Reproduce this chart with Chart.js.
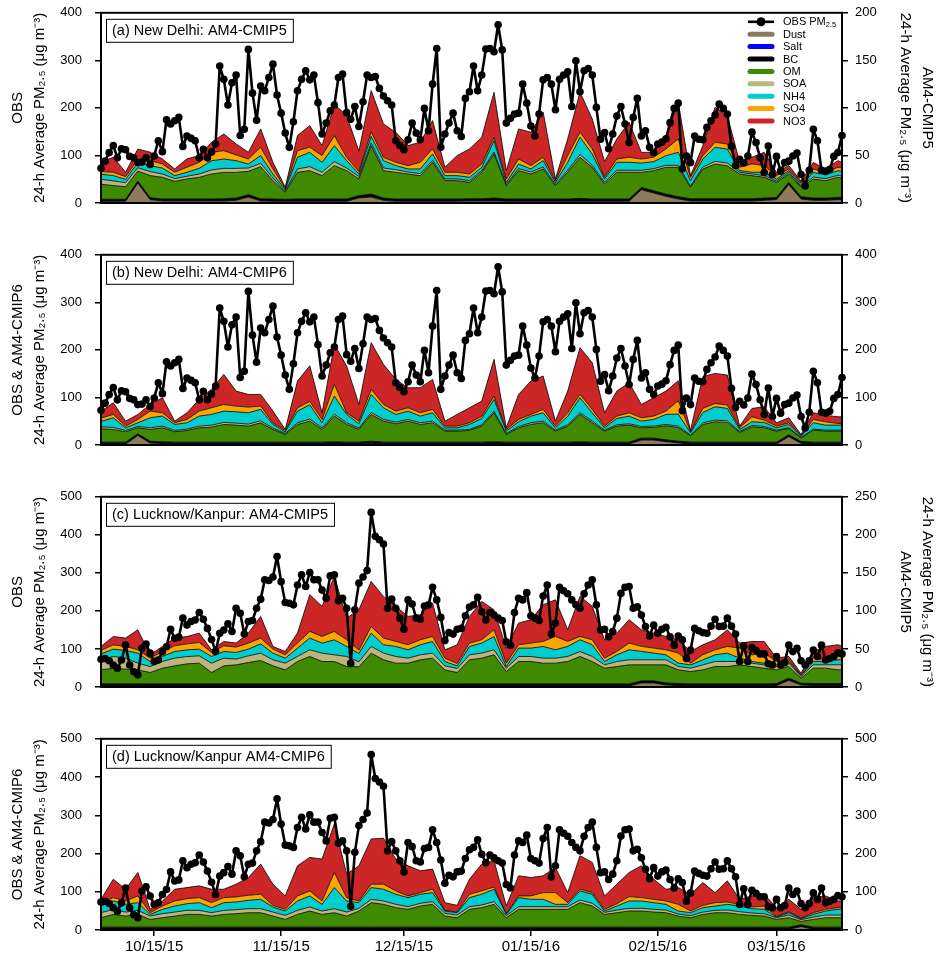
<!DOCTYPE html>
<html><head><meta charset="utf-8">
<script src="https://cdn.jsdelivr.net/npm/chart.js@4.4.1/dist/chart.umd.min.js"></script>
<style>
html,body{margin:0;padding:0;background:#fff;}
#wrap{position:relative;width:938px;height:976px;overflow:hidden;}
canvas{position:absolute;left:0;}
</style></head><body><div id="wrap">
<canvas id="ca" width="938" height="242" style="top:-8px"></canvas>
<canvas id="cb" width="938" height="242" style="top:234px"></canvas>
<canvas id="cc" width="938" height="242" style="top:476px"></canvas>
<canvas id="cd" width="938" height="259" style="top:718px"></canvas>
</div>
<script>
// ---------------- DATA ----------------
const tickDays = [13,44,74,105,136,165];
const tickLabels = ['10/15/15','11/15/15','12/15/15','01/15/16','02/15/16','03/15/16'];
const seriesNames = ['Dust','Salt','BC','OM','SOA','NH4','SO4','NO3'];
const seriesColors = ['#8c7a5b','#0000ff','#000000','#3f8a00','#bdb57c','#00cdcd','#ffa500','#cd2626'];

// daily observations, day 0 = 2 Oct 2015
const obsDelhi = [73,88,106,121,95,114,112,98,95,85,86,95,81,99,131,108,175,166,173,180,119,141,136,131,95,113,95,107,124,
288,260,206,253,269,142,155,323,231,174,246,236,264,292,227,189,147,117,171,236,260,278,259,269,211,145,168,194,206,264,271,
190,176,203,161,213,269,264,266,241,225,215,206,131,121,112,133,168,147,133,199,152,250,325,117,145,168,189,152,140,220,234,288,236,269,324,325,318,375,322,168,178,187,189,250,210,162,141,187,259,264,250,196,260,269,276,203,299,234,278,283,269,
201,134,148,114,145,183,203,166,127,180,220,141,152,117,106,124,128,135,169,199,210,72,99,85,141,134,133,159,173,185,208,199,187,119,79,92,84,99,149,127,95,64,120,60,98,67,85,88,99,105,60,36,69,155,131,69,67,71,98,106,142];
const obsLucknow = [73,75,69,58,49,71,110,58,40,32,102,113,89,67,71,93,106,152,128,131,181,163,172,176,196,178,154,125,93,141,150,166,146,207,194,139,172,175,207,231,282,280,289,343,277,222,220,216,268,295,264,301,282,282,255,233,292,295,227,233,
207,62,203,273,289,306,459,396,387,376,207,231,207,181,152,229,218,181,178,213,216,262,229,183,122,143,139,152,154,187,210,216,236,198,176,196,189,181,175,119,110,196,233,229,248,187,181,175,239,268,139,168,262,253,245,229,216,207,245,268,282,
216,150,152,132,146,181,246,262,264,207,211,189,159,134,163,141,152,157,132,110,134,124,75,97,154,148,143,141,160,178,159,160,181,160,139,67,108,67,104,96,87,87,61,58,80,58,64,110,93,102,69,58,69,97,80,110,71,75,80,90,87];

// model sampling days
const modelDays = [0,3,6,9,12,15,18,21,24,27,30,33,36,39,42,45,48,51,54,57,60,63,66,69,72,75,78,81,84,87,90,93,96,99,102,105,108,111,114,117,120,123,126,129,132,135,138,141,144,147,150,153,156,159,162,165,168,171,174,177,180,181];

// (a) New Delhi AM4-CMIP5
const dustA = [1.8,1.8,1.8,21,3.5,2.1,2.1,2.1,2.1,2.1, 2.1,2.8,6.3,2.1,1.8,1.8,1.8,1.8,1.8,1.8, 1.8,5.3,6.3,2.8,1.8,1.8,1.8,1.8,1.8,1.8, 2.1,2.1,2.1,1.8,1.8,1.8,1.8,1.8,1.8,1.8, 1.8,1.8,1.8,1.8,14,10.5,7,4.2,2.1,2.1, 2.1,2.1,2.1,2.1,2.8,3.5,19.3,4.2,2.8,2.8, 3.5,3.5];
const saltA = [0.3,0.3,0.3,0.3,0.3,0.3,0.3,0.3,0.3,0.3, 0.3,0.3,0.3,0.3,0.3,0.3,0.3,0.3,0.3,0.3, 0.3,0.3,0.3,0.3,0.3,0.3,0.3,0.3,0.3,0.3, 0.3,0.3,0.3,0.3,0.3,0.3,0.3,0.3,0.3,0.3, 0.3,0.3,0.3,0.3,0.3,0.3,0.3,0.3,0.3,0.3, 0.3,0.3,0.3,0.3,0.3,0.3,0.3,0.3,0.3,0.3, 0.3,0.3];
const bcA = [1.8,1.8,1.8,1.8,1.8,1.8,1.8,1.8,1.8,1.8, 2.1,2.1,2.1,2.1,2.1,1.8,2.1,2.1,2.1,2.1, 2.1,2.1,2.8,2.1,2.1,2.1,2.1,2.1,2.1,2.1, 2.1,2.1,2.8,2.1,2.1,2.1,2.1,2.1,2.1,2.8, 2.1,2.1,2.1,2.1,2.1,2.1,2.1,2.1,2.1,2.1, 2.1,2.1,2.1,2.1,2.1,2.1,2.1,2.1,2.1,2.1, 2.1,2.1];
const omA = [15.8,14.4,13.3,10.5,23.2,22.8,18.6,21.1,22.8,26.3, 27.7,27,24.6,33.7,19.3,7.4,28.1,29.8,24.6,35.1, 29.8,17.6,50.9,28.8,28.1,26.3,24.6,38.6,19.3,19.3, 17.2,27.7,46.3,14,29.8,26.3,31.6,14,28.1,43.2, 33.3,15.8,28.1,28.1,15.8,21.1,28.1,30.9,11.9,31.2, 36.5,34.7,26,24.2,21.8,15.8,8.8,9.8,20,18.3, 21.1,20.4];
const soaA = [5.3,4.9,4.2,3.5,4.2,3.5,2.8,2.8,3.5,4.2, 4.2,4.2,3.5,3.5,2.8,1.4,3.5,4.2,3.5,4.2, 2.8,2.5,2.8,2.8,2.8,2.1,2.1,2.1,1.8,1.8, 1.8,1.8,2.1,1.4,2.1,2.1,2.1,1.4,2.1,2.8, 2.1,1.8,2.1,2.1,2.1,2.1,2.1,2.1,1.4,2.1, 2.8,2.8,1.8,1.8,1.8,1.4,1.8,1.1,2.1,2.1, 2.1,2.1];
const nh4A = [5.3,5.6,3.5,5.3,6.3,6.3,3.2,4.2,6,9.8, 9.8,8.1,4.2,8.1,4.2,1.4,12.3,15.1,10.5,16.8, 7.7,2.8,7,7.7,4.2,3.2,4.9,6.7,3.5,3.5, 3.5,3.5,11.9,2.1,4.9,3.2,6.7,2.1,8.4,18.3, 11.9,3.5,8.4,8.4,7.7,7.4,10.2,13.7,5.6,8.4, 14.7,14.7,1.8,1.8,3.5,2.1,1.8,1.8,4.9,3.9, 4.9,4.9];
const so4A = [2.8,3.5,2.8,3.5,5.3,4.2,3.5,5.3,6.3,8.8, 8.8,6,5.3,8.8,5.3,1.4,7,5.3,7,10.5, 3.5,2.5,4.9,3.5,3.5,3.5,7,5.3,3.5,3.5, 3.5,3.5,3.5,3.5,5.3,3.5,3.5,1.8,7,5.3, 5.3,1.8,3.5,5.3,4.2,4.6,7,14,3.5,3.5, 5.3,5.3,3.5,8.8,7,3.5,1.8,1.8,3.5,2.8, 3.5,3.5];
const no3A = [9.8,15.8,4.6,10.9,8.8,5.3,3.5,8.8,7,10.5, 17.6,11.6,7,19.3,7,1.1,15.8,22.8,10.5,33, 43.9,21.4,43.2,35.1,31.6,21.1,21.1,29.8,5.3,17.6, 26.3,28.1,47.4,8.8,31.6,35.1,47.4,1.8,17.6,42.1, 31.6,16.5,21.1,36.9,7,5.3,12.3,38.6,1.8,10.5, 36.9,29.8,5.3,7,14,3.5,3.5,1.8,7,3.5, 7,6];

// (b) New Delhi AM4-CMIP6
const dustB = [2.1,2.1,2.1,19.7,4.2,2.8,2.1,2.1,2.1,2.1, 2.1,2.1,2.1,2.1,2.1,2.1,2.1,2.1,2.1,2.1, 2.1,2.1,3.5,2.1,2.1,2.1,2.1,2.1,2.1,2.1, 2.1,2.1,2.1,2.1,2.1,2.1,2.1,2.1,2.1,2.1, 2.1,2.1,2.1,2.1,10.5,10.5,7,4.2,2.1,2.1, 2.1,2.1,2.1,2.1,2.1,2.1,17.6,3.5,2.1,2.1, 2.1,2.1];
const saltB = [0.4,0.4,0.4,0.4,0.4,0.4,0.4,0.4,0.4,0.4, 0.4,0.4,0.4,0.4,0.4,0.4,0.4,0.4,0.4,0.4, 0.4,0.4,0.4,0.4,0.4,0.4,0.4,0.4,0.4,0.4, 0.4,0.4,0.4,0.4,0.4,0.4,0.4,0.4,0.4,0.4, 0.4,0.4,0.4,0.4,0.4,0.4,0.4,0.4,0.4,0.4, 0.4,0.4,0.4,0.4,0.4,0.4,0.4,0.4,0.4,0.4, 0.4,0.4];
const bcB = [3.5,3.5,3.5,3.5,3.5,3.5,3.5,3.5,3.5,3.5, 3.5,3.5,3.5,3.5,3.5,3.5,3.5,3.5,3.5,4.2, 3.5,3.5,4.2,3.5,3.5,3.5,3.5,3.5,3.5,3.5, 3.5,3.5,4.2,3.5,3.5,3.5,3.5,3.5,3.5,4.2, 3.5,3.5,3.5,3.5,3.5,3.5,3.5,3.5,3.5,3.5, 3.5,3.5,3.5,3.5,3.5,3.5,3.5,3.5,3.5,3.5, 3.5,3.5];
const omB = [28.1,26.7,21.8,12.6,24.6,29.5,21.8,24.6,30.2,31.6, 37.2,35.8,33.7,40.7,26.7,16.1,37.2,44.2,26.7,54.1, 37.2,26.7,56.2,44.2,38.6,44.2,37.2,40.7,23.2,23.2, 24.6,33.7,61.1,16.1,30.2,37.2,40.7,23.2,33.7,57.6, 40.7,23.2,33.7,35.8,21.8,22.5,29.5,28.8,13.3,37.2, 42.8,41.4,20.4,32.3,30.2,23.2,13.3,7,25.3,23.2, 23.2,23.2];
const soaB = [4.2,4.2,2.8,2.8,3.5,3.5,2.8,2.8,3.5,4.2, 4.2,4.2,4.2,4.2,2.8,2.1,3.5,4.2,3.5,4.2, 3.5,2.8,4.2,3.5,3.5,3.5,3.5,3.5,2.1,2.1, 2.1,2.8,3.5,2.1,2.8,3.5,3.5,2.1,2.8,3.5, 3.5,2.1,2.8,2.8,2.8,2.8,2.8,2.8,1.4,3.5, 3.5,3.5,2.1,2.8,2.8,2.1,1.4,1.4,2.1,2.1, 2.1,2.1];
const nh4B = [11.2,20.4,5.6,7.7,21.1,21.1,12.6,13.3,21.1,22.5, 23.9,23.9,23.9,23.9,7.7,3.5,24.6,30.2,10.5,37.9, 17.6,9.1,37.9,24.6,16.1,17.6,14,17.6,4.9,4.9, 10.5,13.3,24.6,4.9,9.8,14,17.6,4.9,18.3,31.6, 17.6,4.9,13.3,16.1,11.2,14,21.1,25.3,4.9,21.8, 28.1,26,4.2,7.7,8.4,4.9,7,2.8,13.3,10.5, 10.5,10.5];
const so4B = [7,7,3.5,7,14,7,3.5,7,10.5,14, 14,11.9,11.9,7,3.5,2.8,7,7,7,24.6, 3.5,5.6,10.5,7,7,7,7,7,3.5,3.5, 3.5,4.9,7,3.5,4.9,3.5,7,3.5,7,7, 7,3.5,4.9,7,7,7,7,28.1,2.1,8.4, 7,7,3.5,10.5,4.9,3.5,3.5,1.4,7,7, 3.5,3.5];
const no3B = [14,24.6,10.5,10.5,14,31.6,3.5,14,24.6,38.6, 63.2,31.6,26.7,24.6,24.6,2.1,56.2,75.1,14,84.2, 98.3,35.1,98.3,84.2,66.7,42.1,52.7,63.2,10.5,24.6, 31.6,31.6,77.2,3.5,52.7,70.2,70.2,10.5,45.6,98.3, 98.3,28.1,52.7,63.2,28.1,38.6,42.1,42.1,3.5,66.7, 63.2,63.2,3.5,17.6,28.1,7,10.5,2.1,14,14, 14,14];

// (c) Lucknow/Kanpur AM4-CMIP5
const dustC = [1.3,1.3,1.3,1.3,1.3,1.3,1.3,1.3,1.3,1.3, 1.3,1.3,1.3,1.3,1.3,1.3,1.3,1.3,1.3,1.3, 1.3,1.3,1.3,1.3,1.3,1.3,1.3,1.3,1.3,1.3, 1.3,1.3,1.3,1.3,1.3,1.3,1.3,1.3,1.3,1.3, 1.3,1.3,1.3,1.3,5.3,5.3,2.6,1.8,1.3,1.3, 1.3,1.3,1.3,1.3,1.3,1.8,8.8,2.6,1.8,1.8, 1.8,1.8];
const saltC = [0.2,0.2,0.2,0.2,0.2,0.2,0.2,0.2,0.2,0.2, 0.2,0.2,0.2,0.2,0.2,0.2,0.2,0.2,0.2,0.2, 0.2,0.2,0.2,0.2,0.2,0.2,0.2,0.2,0.2,0.2, 0.2,0.2,0.2,0.2,0.2,0.2,0.2,0.2,0.2,0.2, 0.2,0.2,0.2,0.2,0.2,0.2,0.2,0.2,0.2,0.2, 0.2,0.2,0.2,0.2,0.2,0.2,0.2,0.2,0.2,0.2, 0.2,0.2];
const bcC = [2.6,2.6,2.6,2.6,2.6,2.6,2.6,2.6,2.6,2.6, 2.6,2.6,2.6,2.6,2.6,2.6,2.6,2.6,2.6,2.6, 2.6,2.6,2.6,2.6,2.6,2.6,2.6,2.6,2.6,2.6, 2.6,2.6,2.6,2.6,2.6,2.6,2.6,2.6,2.6,2.6, 2.6,2.6,2.6,2.6,2.6,2.6,2.6,2.6,2.6,2.6, 2.6,2.6,2.6,2.6,2.6,2.6,2.6,2.2,2.6,2.6, 2.6,2.6];
const omC = [18.4,20.6,19.3,18.4,14.9,20.6,23.7,26.3,27.2,14.9, 23.7,25,28.1,30.7,23.7,18.4,29.4,36,29.4,29.4, 22.8,22.4,40.4,31.6,27.2,27.2,31.6,33.8,18.4,14.9, 31.6,33.8,38.2,16.2,29.4,29.4,27.2,27.2,29.4,36, 29.4,20.6,22.8,25,21.1,21.1,23.7,18,16.2,18.4, 22.8,22.8,25,22.8,20.6,18,15.4,6.6,20.2,20.2, 18,18];
const soaC = [13.2,15.4,14.5,8.8,7.9,8.8,10.1,9.6,9.6,12.3, 10.1,7.5,8.8,9.6,7.9,8.8,6.6,8.8,11,8.8, 13.2,6.6,8.8,8.8,8.8,6.6,6.6,6.6,5.3,5.3, 6.6,6.6,6.6,4.4,6.6,6.6,6.6,6.6,6.6,6.6, 6.6,4.4,6.6,6.6,6.6,6.6,6.6,4.4,4.4,6.6, 6.6,6.6,4.4,4.4,4.4,4.4,4.4,2.2,4.4,4.4, 6.6,6.6];
const nh4C = [7.9,9.6,10.1,13.2,6.6,6.6,8.8,8.8,8.8,8.8, 8.8,8.8,8.8,12.3,8.8,6.6,11,15.4,13.2,19.7, 13.2,11,17.5,11,13.2,11,13.2,15.4,5.7,3.5, 11,13.2,17.5,2.2,11,11,15.4,11,13.2,15.4, 15.4,4.4,8.8,13.2,11,8.8,6.6,4.4,4.4,6.6, 8.8,11,4.4,2.2,2.2,2.2,2.2,1.3,4.4,4.4, 6.6,6.6];
const so4C = [4.4,5.7,5.3,4.4,4.4,6.6,7.5,7.9,8.8,5.3, 7.5,7,7.9,7.5,5.3,4.4,6.6,8.8,8.8,11, 8.8,4.4,8.8,8.8,6.6,6.6,6.6,6.6,4.4,3.1, 4.4,4.4,8.8,4.4,4.4,6.6,6.6,17.5,6.6,4.4, 6.6,4.4,4.4,8.8,6.6,6.6,6.6,13.2,2.2,6.6, 6.6,8.8,13.2,8.8,13.2,4.4,2.2,0.9,4.4,2.2, 4.4,4.4];
const no3C = [5.3,11,11,26.3,4.4,6.6,10.1,9.6,12.3,3.5, 5.7,5.3,13.2,28.5,3.5,4.4,13.2,48.2,39.5,72.4, 28.5,53.1,59.2,54.8,46.1,37.3,32.9,43.9,11,24.6, 35.1,50.4,26.3,19.7,28.5,30.7,48.2,48.2,15.4,52.6, 43.9,24.1,24.1,30.7,21.9,19.7,17.5,17.5,15.4,13.2, 13.2,21.9,6.6,17.5,15.4,4.4,4.4,2.2,8.8,17.5, 15.4,13.2];

// (d) Lucknow/Kanpur AM4-CMIP6
const dustD = [1.8,1.8,1.8,1.8,1.8,1.8,1.8,1.8,1.8,1.8, 1.8,1.8,1.8,1.8,1.8,1.8,1.8,1.8,1.8,1.8, 1.8,1.8,1.8,1.8,1.8,1.8,1.8,1.8,1.8,1.8, 1.8,1.8,1.8,1.8,1.8,1.8,1.8,1.8,1.8,1.8, 1.8,1.8,1.8,1.8,1.8,1.8,1.8,1.8,1.8,1.8, 1.8,1.8,1.8,1.8,1.8,1.8,1.8,8.8,1.8,1.8, 1.8,1.8];
const saltD = [0.4,0.4,0.4,0.4,0.4,0.4,0.4,0.4,0.4,0.4, 0.4,0.4,0.4,0.4,0.4,0.4,0.4,0.4,0.4,0.4, 0.4,0.4,0.4,0.4,0.4,0.4,0.4,0.4,0.4,0.4, 0.4,0.4,0.4,0.4,0.4,0.4,0.4,0.4,0.4,0.4, 0.4,0.4,0.4,0.4,0.4,0.4,0.4,0.4,0.4,0.4, 0.4,0.4,0.4,0.4,0.4,0.4,0.4,0.4,0.4,0.4, 0.4,0.4];
const bcD = [5.3,5.3,5.3,5.3,5.3,5.3,5.3,5.3,5.3,5.3, 5.3,5.3,5.3,5.3,5.3,5.3,5.3,5.3,5.3,5.3, 5.3,5.3,5.3,5.3,5.3,5.3,5.3,5.3,5.3,5.3, 5.3,5.3,5.3,5.3,5.3,5.3,5.3,5.3,5.3,5.3, 5.3,5.3,5.3,5.3,5.3,5.3,5.3,5.3,5.3,5.3, 5.3,5.3,5.3,5.3,5.3,5.3,5.3,4.4,5.3,5.3, 5.3,5.3];
const omD = [24.6,33.3,28.9,33.3,20.2,24.6,28.9,33.3,33.3,28.9, 33.3,35.1,37.7,37.7,28.9,20.2,33.3,42.1,33.3,37.7, 28.9,42.1,64,59.6,50.9,46.5,55.3,59.6,28.9,24.6, 46.5,50.9,59.6,24.6,46.5,46.5,46.5,46.5,46.5,64, 55.3,33.3,37.7,42.1,42.1,39.5,37.7,28.9,24.6,33.3, 37.7,37.7,33.3,30.7,28.9,20.2,24.6,8.8,20.2,24.6, 24.6,24.6];
const soaD = [13.2,13.2,10.5,10.5,8.8,10.5,10.5,10.5,10.5,8.8, 10.5,10.5,10.5,10.5,10.5,10.5,10.5,10.5,8.8,10.5, 10.5,7,8.8,8.8,8.8,7,7,7,7,7, 7,7,7,5.3,7,7,7,7,7,7, 7,5.3,7,7,7,7,7,5.3,5.3,6.1, 6.1,7,7,6.1,6.1,4.4,7,4.4,6.1,7, 7,7];
const nh4D = [17.5,21.9,20.2,20.2,4.4,11.4,15.8,17.5,20.2,13.2, 20.2,20.2,21.9,24.6,13.2,11.4,24.6,28.9,17.5,55.3, 28.9,14.9,30.7,30.7,26.3,23.7,23.7,23.7,6.1,6.1, 23.7,28.1,32.4,3.5,23.7,19.3,19.3,6.1,6.1,23.7, 23.7,3.5,10.5,19.3,19.3,17.5,14.9,7.9,7.9,11.4, 11.4,14.9,14.9,11.4,11.4,1.8,6.1,2.6,7,10.5, 14.9,14.9];
const so4D = [8.8,8.8,8.8,17.5,4.4,8.8,13.2,13.2,13.2,13.2, 13.2,13.2,13.2,13.2,4.4,4.4,13.2,13.2,8.8,39.5, 8.8,4.4,8.8,13.2,8.8,4.4,4.4,8.8,1.8,1.8, 8.8,8.8,6.1,1.8,4.4,8.8,17.5,30.7,4.4,4.4, 4.4,4.4,6.1,11.4,8.8,8.8,8.8,17.5,4.4,6.1, 8.8,6.1,4.4,4.4,8.8,1.8,2.6,1.8,4.4,4.4, 4.4,4.4];
const no3D = [8.8,48.2,30.7,61.4,8.8,13.2,30.7,28.9,30.7,35.1, 21.9,33.3,46.5,78.9,55.3,35.1,78.9,87.7,109.6,127.2, 61.4,92.1,118.4,120.1,83.3,78.9,57,52.6,20.2,17.5, 39.5,70.2,68.4,20.2,52.6,48.2,43.9,65.8,26.3,87.7, 78.9,35.1,50.9,63.1,83.3,52.6,30.7,43.9,43,59.6, 26.3,55.3,13.2,28.9,30.7,22.8,32.4,22.8,39.5,35.1, 17.5,17.5];

// ---------------- RENDER ----------------
const FONT = "'Liberation Sans', Arial, Helvetica, sans-serif";
Chart.defaults.font.family = FONT;
Chart.defaults.color = '#000';

const pmTitle = '24-h Average PM\u2082.\u2085 (\u03bcg m\u207b\u00b3)';

const decor = {
  id: 'decor',
  afterDraw(chart, args, opts) {
    const {ctx, chartArea: a} = chart;
    ctx.save();
    ctx.strokeStyle = '#000';
    ctx.lineWidth = 2;
    ctx.strokeRect(a.left, a.top, a.right - a.left, a.bottom - a.top);
    // panel label box
    ctx.font = '14.5px ' + FONT;
    const tw = ctx.measureText(opts.label).width;
    const bx = a.left + 5, by = a.top + 6, bw = tw + 12, bh = 23;
    ctx.fillStyle = '#fff';
    ctx.fillRect(bx, by, bw, bh);
    ctx.lineWidth = 1;
    ctx.strokeRect(bx + 0.5, by + 0.5, bw, bh);
    ctx.fillStyle = '#000';
    ctx.textBaseline = 'middle';
    ctx.textAlign = 'left';
    ctx.fillText(opts.label, bx + 6, by + bh / 2 + 1);
    if (opts.legend) {
      const x1 = 750, x2 = 772, tx = 783, step = 12.4;
      let y = a.top + 9;
      // OBS entry
      ctx.strokeStyle = '#000'; ctx.lineWidth = 2.6;
      ctx.beginPath(); ctx.moveTo(x1 - 2, y); ctx.lineTo(x2 + 2, y); ctx.stroke();
      ctx.beginPath(); ctx.arc((x1 + x2) / 2, y, 4.5, 0, Math.PI * 2); ctx.fillStyle = '#000'; ctx.fill();
      ctx.font = '11px ' + FONT;
      ctx.fillText('OBS PM', tx, y);
      const w = ctx.measureText('OBS PM').width;
      ctx.font = '7.5px ' + FONT;
      ctx.fillText('2.5', tx + w, y + 3);
      ctx.font = '11px ' + FONT;
      ctx.lineCap = 'round';
      for (let i = 0; i < seriesNames.length; i++) {
        y += step;
        ctx.strokeStyle = seriesColors[i]; ctx.lineWidth = 5;
        ctx.beginPath(); ctx.moveTo(x1, y); ctx.lineTo(x2, y); ctx.stroke();
        ctx.fillStyle = '#000';
        ctx.fillText(seriesNames[i], tx, y + 0.5);
      }
    }
    ctx.restore();
  }
};

function xy(days, vals) { return vals.map((v, i) => ({x: days[i], y: v})); }

function makePanel(id, p) {
  const obsDays = p.obs.map((_, i) => i);
  const datasets = [{
    label: 'OBS PM2.5', data: xy(obsDays, p.obs), yAxisID: 'y',
    borderColor: '#000', borderWidth: 2.6, borderJoinStyle: 'round', pointRadius: 3.8, pointHoverRadius: 3.8,
    pointBackgroundColor: '#000', pointBorderWidth: 0, fill: false, tension: 0, clip: false
  }];
  p.model.forEach((arr, i) => {
    datasets.push({
      label: seriesNames[i], data: xy(modelDays, arr), yAxisID: 'y1',
      backgroundColor: seriesColors[i], borderColor: '#000', borderWidth: 0.8, borderJoinStyle: 'round',
      pointRadius: 0, pointHoverRadius: 0, tension: 0, fill: i === 0 ? 'origin' : '-1'
    });
  });
  const gridOpt = {drawOnChartArea: false, drawTicks: true, tickLength: 6, color: '#000', lineWidth: 1.5};
  new Chart(document.getElementById(id), {
    type: 'line',
    data: {datasets},
    plugins: [decor],
    options: {
      responsive: false, animation: false, devicePixelRatio: 1,
      layout: {padding: {top: 4, bottom: p.showX ? 0 : 31, left: 0, right: 0}},
      plugins: {legend: {display: false}, tooltip: {enabled: false},
        decor: {label: p.label, legend: p.legend}},
      scales: {
        x: {
          type: 'linear', min: 0, max: 181, display: p.showX,
          grid: gridOpt, border: {display: false},
          afterBuildTicks: s => { s.ticks = tickDays.map(v => ({value: v})); },
          ticks: {autoSkip: false, maxRotation: 0, padding: 2, font: {size: 15},
            callback: (v, i) => tickLabels[i]},
          afterFit: s => { s.height = p.showX ? 47 : 0; }
        },
        y: {
          position: 'left', min: 0, max: p.lMax,
          ticks: {stepSize: p.lStep, padding: 13, font: {size: 13}},
          grid: gridOpt, border: {display: false},
          title: {display: true, text: p.lTitle, font: {size: 15, lineHeight: '22px'}, padding: {top: 7, bottom: 0}},
          afterFit: s => { s.width = 101; }
        },
        y1: {
          position: 'right', stacked: true, min: 0, max: p.rMax,
          ticks: {stepSize: p.rStep, padding: 7, font: {size: 13}},
          grid: gridOpt, border: {display: false},
          title: p.rTitle ? {display: true, text: p.rTitle, font: {size: 15, lineHeight: '22px'}, padding: {top: 0, bottom: 0}} : {display: false},
          afterFit: s => { s.width = 96; }
        }
      }
    }
  });
}

makePanel('ca', {obs: obsDelhi, model: [dustA, saltA, bcA, omA, soaA, nh4A, so4A, no3A],
  lMax: 400, lStep: 100, rMax: 200, rStep: 50, label: '(a) New Delhi: AM4-CMIP5', legend: true,
  lTitle: ['OBS', pmTitle], rTitle: ['AM4-CMIP5', pmTitle], showX: false});
makePanel('cb', {obs: obsDelhi, model: [dustB, saltB, bcB, omB, soaB, nh4B, so4B, no3B],
  lMax: 400, lStep: 100, rMax: 400, rStep: 100, label: '(b) New Delhi: AM4-CMIP6', legend: false,
  lTitle: ['OBS & AM4-CMIP6', pmTitle], rTitle: null, showX: false});
makePanel('cc', {obs: obsLucknow, model: [dustC, saltC, bcC, omC, soaC, nh4C, so4C, no3C],
  lMax: 500, lStep: 100, rMax: 250, rStep: 50, label: '(c) Lucknow/Kanpur: AM4-CMIP5', legend: false,
  lTitle: ['OBS', pmTitle], rTitle: [pmTitle, 'AM4-CMIP5'], showX: false});
makePanel('cd', {obs: obsLucknow, model: [dustD, saltD, bcD, omD, soaD, nh4D, so4D, no3D],
  lMax: 500, lStep: 100, rMax: 500, rStep: 100, label: '(d) Lucknow/Kanpur AM4-CMIP6', legend: false,
  lTitle: ['OBS & AM4-CMIP6', pmTitle], rTitle: null, showX: true});
</script></body></html>
